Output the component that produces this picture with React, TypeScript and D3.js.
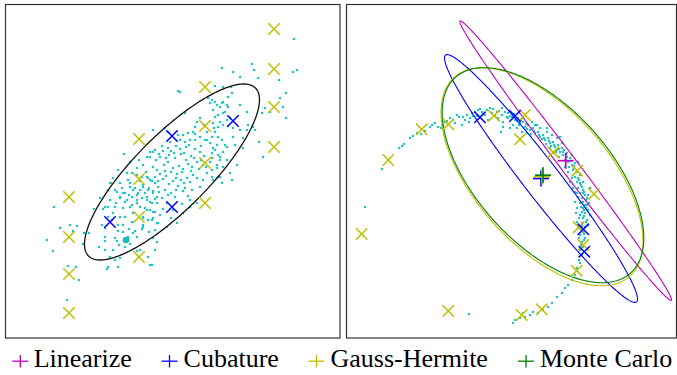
import React from 'react';
import * as d3 from 'd3';

const W = 677;
const H = 375;

// ---- legend / methods ----
const methods = ['Linearize', 'Cubature', 'Gauss-Hermite', 'Monte Carlo'];
const methodColors = ['#bf00bf', '#0000ff', '#bfbf00', '#008000'];
const sampleColor = '#22c4c4';

// ---- left panel (prior) : data units ----
const leftSamples: [number, number][] = [
  [49,131],[42,98],[48,87],[55,110],[65,113],[72,112],[68,107],[79,105],[84,105],[78,94],[63,72],[71,71],[74,58],[62,38],[89,129],[95,140],[98,129],[103,131],[108,125],[106,155],[112,146],[115,141],[111,135],[120,145],[122,138],[118,130],[125,131],[115,121],[113,113],[118,113],[113,107],[118,106],[124,109],[130,107],[128,105],[137,109],[132,101],[123,101],[110,100],[112,97],[100,101],[100,97],[94,91],[100,88],[108,88],[114,93],[120,91],[125,94],[132,87],[135,88],[105,81],[110,78],[115,80],[103,71],[113,71],[102,69],[145,73],[143,81],[150,88],[148,100],[152,96],[103,121],[107,118],[97,113],[100,110],
  [122,165],[127,165],[132,163],[137,161],[142,161],[145,158],[150,155],[125,155],[130,150],[135,148],[138,151],[143,148],[148,145],[152,141],[132,143],[137,140],[142,138],[147,135],[152,135],[132,135],[135,131],[140,130],[145,128],[150,126],[138,121],[143,118],[148,120],[152,115],[138,113],
  [119,184],[125,176],[132,170],[138,173],[134,178],[142,181],[145,186],[150,188],[148,208],[160,210],[163,206],[173,203],[178,203],[183,205],[188,206],[175,198],[180,196],[185,198],[190,198],[195,201],[202,198],[207,201],[210,206],[213,211],[208,215],[210,221],[208,228],[212,233],[205,235],[207,238],[217,235],[222,233],[218,225],[222,218],[215,216],[192,216],[195,220],[190,211],[180,225],[175,246],[205,195],[212,193],[217,198],[220,193],[210,188],[207,185],[213,183],[218,186],
  [148,186],[154,184],[158,187],[163,190],[166,187],[171,192],[175,189],[181,191],[184,193],[190,189],[196,192],
  [145,181],[151,178],[155,181],[161,180],[164,183],[170,180],[176,184],[179,185],[186,182],[189,180],[195,186],[199,182],
  [148,171],[152,168],[159,173],[163,176],[168,170],[174,172],[178,169],[183,174],[187,171],[194,169],
  [155,164],[161,162],[166,166],[172,164],[177,166],[182,160],[188,163],[192,160],
  [143,160],[147,157],[153,157],[158,159],[164,154],[168,157],[173,152],[179,155],[185,156],
  [138,153],[144,150],[148,147],[153,151],[160,148],[166,145],[171,148],[178,147],[183,142],
  [128,148],[133,145],[127,141],[132,138],[142,141],[145,136],[150,139],[157,140],[162,135],[170,141],[177,134],[185,131],
  [123,158],[125,151],[118,145],[120,136],[115,140],[110,131],[127,133],[142,128],[148,126],[155,123],[128,125],[120,121],[127,116],[138,120],[147,118],[153,115],[172,115],[162,111],[150,108],[138,111],
  [113,168],[108,160],[115,155],[103,148],[105,138],[100,131],[110,148],
  [198,158],[202,165],[207,168],[198,173],[205,176],[212,173],[215,178],[195,151],[187,148],[208,158],[213,161],[185,138],[168,128],[178,125],[192,135],
  [289,299],[247,274],[249,268],[228,266],[217,270],[235,261],[253,260],[288,266],[292,268],[274,258],[281,245],[275,240],[278,231],[260,230],[265,226],[257,225],[281,220],[254,196],[258,181],[210,252],[218,251],[226,251],[227,245],[223,241],[203,240],
  [210,236],[218,236],[215,231],[223,231],[235,233],[242,226],[213,223],[220,226],[225,220],[218,213],[223,212],[243,213],[248,211],[250,208],[242,208],[235,208],[228,210],[209,210],[213,201],[228,201],[238,200],[230,193],[222,191],[238,190],[208,190],[215,181],[207,180],[222,178],[232,173],[218,171],[212,170],[225,165],[215,161],[207,161],[217,155],[227,158],[200,198],[202,206],
  [173,247],[105,155],[147,73],
  [157,192],[169,185],[181,178],[192,176],[160,167],[171,160],[186,167],[150,161],[176,158],[163,143],[154,146],[140,145],[180,150],[196,178],[201,171],[165,196],[141,166],[135,157],[158,129],[166,120],[144,106],[117,150],[124,143],[190,204],[199,213],
];
const leftHighlighted: [number, number][] = [[121, 98]];
const leftGaussHermite: [number, number][] = [
  [269,309],[269,269],[269,231],[269,191],
  [200,251],[200,212],[200,175],[200,135],
  [134,199],[134,159],[134,121],[134,81],
  [64,141],[64,101],[64,64],[64,25],
];
const leftCubature: [number, number][] = [[167,202],[228,217],[167,131],[105,116]];
const leftMean: [number, number] = [167, 166];
const leftSd: [number, number] = [87.5, 88];
const leftRho = 0.82;

// ---- right panel (transformed) : data units ----
const rightSamples: [number, number][] = [
  [35,169],[52,190],[55,192],[57,194],[63,200],[66,202],[70,205],[74,204],[78,207],[83,211],[85,213],[88,215],[91,211],[94,210],[96,213],[98,216],[103,220],[106,218],[110,223],[108,215],[115,213],[116,221],[120,223],[123,220],[122,216],[126,222],[128,226],[131,228],[135,226],[138,223],[140,228],[141,218],[145,225],[148,222],[151,220],[155,223],[156,216],[160,221],[161,225],[154,206],[18,131],[122,24],
  [155,230],[161,220],[165,221],[168,218],[171,220],[173,215],[176,216],[178,211],[181,213],[183,208],[186,210],[188,205],[191,206],[193,201],[196,203],[198,198],[201,200],[203,195],[206,196],[208,191],[211,193],[210,188],[213,186],[215,190],[216,183],[220,185],[218,178],[221,176],[223,180],[225,173],[228,175],[226,168],[230,166],[228,161],[231,160],[233,163],[230,156],[233,155],[235,151],[231,150],[236,148],[233,145],[238,143],[235,140],[231,141],[236,136],[233,135],[240,133],[236,130],[235,126],[238,125],[233,123],[236,120],[240,118],[235,115],[238,111],[236,106],[233,103],[238,100],[235,96],[236,91],[233,88],[235,83],[232,78],[233,75],[230,70],[228,63],[225,58],[221,53],[218,50],[215,45],[210,41],[205,35],[201,31],[196,28],[191,25],[186,26],[183,23],[178,21],[173,20],[168,18],[166,15],[176,25],
  [166,213],[156,211],[163,210],[185,216],[190,213],[193,210],[200,206],[205,203],[210,200],[213,201],[203,190],[206,185],[218,171],[221,166],[225,160],[228,146],[228,136],[230,130],[241,128],[243,123],[241,113],[231,110],[230,116],[241,143],[243,150],[231,176],[225,183],[215,195],[170,210],[175,206],[180,205],
  [236,145],[239,138],[234,131],[237,128],[232,120],[239,116],[234,108],[237,98],[234,93],[232,100],[229,125],[240,140],[226,150],[223,156],[236,156],[230,145],[242,135],[238,133],
  [180,209],[184,204],[195,199],[199,194],[204,192],[209,186],[212,181],[217,188],[222,171],[227,170],[219,183],[200,210],[188,213],[172,213],[176,220],[167,224],[150,226],[143,230],[136,224],[130,222],[118,218],[112,221],[100,217],
  [125,225],[133,229],[146,229],[152,227],[158,226],[163,222],[170,217],[174,218],[179,214],[187,207],[192,203],[197,200],[202,197],[207,193],[212,189],[216,186],[220,181],[224,177],[227,172],[232,158],[234,153],[237,146],[239,130],[237,122],[235,112],[237,104],
];
const rightGaussHermite: [number, number][] = [
  [14.7,104],[41.3,178],[74.7,208.7],[101.3,213.7],[147,222.3],[178,223],[173,198.7],[206.3,185.7],
  [230.3,167.3],[247,144],[231.7,110.7],[236.3,93],[229.7,67.3],[194.7,28.7],[174.7,23],[101.3,27],
];
const rightCubature: [number, number][] = [[133,220.7],[168,222],[236.3,108.7],[237.3,86.3]];
// per method: mean, standard deviations, correlation
const rightMeans: [number, number][] = [[218.7,177.3],[194,159.5],[195,161.2],[196,162.8]];
const rightSds: [number, number][] = [[105.8,139.7],[96.5,123.9],[101,109],[100.8,107.5]];
const rightRhos = [-0.995, -0.972, -0.59, -0.585];

function ellipseData(mean: [number, number], sd: [number, number], rho: number): [number, number][] {
  const k = Math.sqrt(1 - rho * rho);
  return d3.range(0, 361).map((i) => {
    const t = (i * Math.PI) / 180;
    const c = Math.cos(t);
    const s = Math.sin(t);
    return [mean[0] + sd[0] * c, mean[1] + sd[1] * (rho * c + k * s)] as [number, number];
  });
}

type Sc = d3.ScaleLinear<number, number>;

function XMark({ x, y, color }: { x: number; y: number; color: string }) {
  const r = 5.7;
  return (
    <g stroke={color} strokeWidth={1.5}>
      <line x1={x - r} y1={y - r} x2={x + r} y2={y + r} />
      <line x1={x - r} y1={y + r} x2={x + r} y2={y - r} />
    </g>
  );
}

function PlusMark({ x, y, color, rx = 8, ry = 8, sw = 1.6 }: { x: number; y: number; color: string; rx?: number; ry?: number; sw?: number }) {
  return (
    <g stroke={color} strokeWidth={sw}>
      <line x1={x - rx} y1={y} x2={x + rx} y2={y} />
      <line x1={x} y1={y - ry} x2={x} y2={y + ry} />
    </g>
  );
}

const serifFont = '"Liberation Serif", "Times New Roman", Times, serif';

export default function App() {
  // left panel scales
  const lx: Sc = d3.scaleLinear().domain([0, 335]).range([5, 340]);
  const ly: Sc = d3.scaleLinear().domain([0, 334]).range([338, 4]);
  // right panel scales
  const rx: Sc = d3.scaleLinear().domain([0, 330]).range([347, 677]);
  const ry: Sc = d3.scaleLinear().domain([0, 334]).range([338, 4]);

  const lineL = d3.line<[number, number]>().x((d) => lx(d[0])).y((d) => ly(d[1])).curve(d3.curveLinearClosed);
  const lineR = d3.line<[number, number]>().x((d) => rx(d[0])).y((d) => ry(d[1])).curve(d3.curveLinearClosed);

  const legendPlusX = [20.3, 169.5, 316.5, 526];
  const legendTextX = [33.7, 183.6, 330.5, 540];

  return (
    <svg width={W} height={H} style={{ position: 'absolute', left: 0, top: 0, background: '#fff' }}>
      <rect x={0} y={0} width={W} height={H} fill="#fff" />
      {/* left panel */}
      <g>
        {leftSamples.map((d, i) => (
          <circle key={i} cx={lx(d[0])} cy={ly(d[1])} r={1.3} fill={sampleColor} />
        ))}
        <path d={lineL(ellipseData(leftMean, leftSd, leftRho)) || ''} fill="none" stroke="#111" strokeWidth={1.3} />
        {leftGaussHermite.map((d, i) => (
          <XMark key={i} x={lx(d[0])} y={ly(d[1])} color={methodColors[2]} />
        ))}
        {leftCubature.map((d, i) => (
          <XMark key={i} x={lx(d[0])} y={ly(d[1])} color={methodColors[1]} />
        ))}
        {leftHighlighted.map((d, i) => (
          <circle key={i} cx={lx(d[0])} cy={ly(d[1])} r={3.3} fill="#19bcbc" />
        ))}
        <rect x={5.5} y={4.5} width={334.5} height={333.5} fill="none" stroke="#333" strokeWidth={1.2} />
      </g>
      {/* right panel */}
      <g>
        {rightSamples.map((d, i) => (
          <circle key={i} cx={rx(d[0])} cy={ry(d[1])} r={1.25} fill={sampleColor} />
        ))}
        {rightMeans.map((m, i) => (
          <path key={i} d={lineR(ellipseData(m, rightSds[i], rightRhos[i])) || ''} fill="none" stroke={methodColors[i]} strokeWidth={1.1} />
        ))}
        {rightGaussHermite.map((d, i) => (
          <XMark key={i} x={rx(d[0])} y={ry(d[1])} color={methodColors[2]} />
        ))}
        {rightCubature.map((d, i) => (
          <XMark key={i} x={rx(d[0])} y={ry(d[1])} color={methodColors[1]} />
        ))}
        {rightMeans.map((m, i) => (
          <PlusMark key={i} x={rx(m[0])} y={ry(m[1])} color={methodColors[i]} sw={1.7} />
        ))}
        <rect x={346.5} y={4.5} width={330} height={333.5} fill="none" stroke="#333" strokeWidth={1.2} />
      </g>
      {/* legend */}
      <g>
        {methods.map((m, i) => (
          <g key={m}>
            <PlusMark x={legendPlusX[i]} y={361.2} color={methodColors[i]} rx={8} ry={6.2} sw={1.3} />
            <text x={legendTextX[i]} y={367.3} fill="#000" style={{ fontFamily: serifFont, fontSize: '26px' }}>{m}</text>
          </g>
        ))}
      </g>
    </svg>
  );
}
